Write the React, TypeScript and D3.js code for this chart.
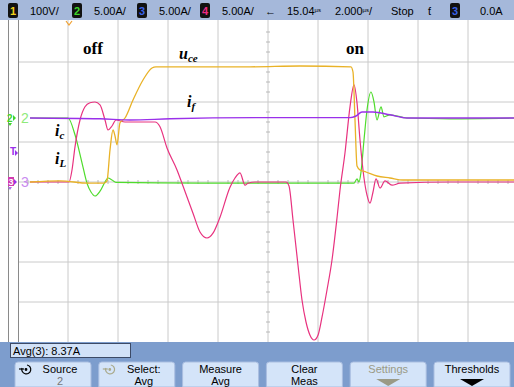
import React from 'react';
import * as d3 from 'd3';

// screen is 10 x 8 divisions, values below are in divisions
// [x (div from left), y (div from centre)]
const uceTrace: [number, number][] = [
  [0.24, 0], [0.84, 0.03], [1.4, -0.03], [1.72, -0.03], [1.78, 0.03], [1.84, 0.8],
  [1.9, 1.3], [1.94, 1.15], [1.98, 0.93], [2.04, 1.48], [2.14, 1.6], [2.3, 2.05],
  [2.5, 2.55], [2.68, 2.85], [2.76, 2.88], [4.64, 2.88], [5.64, 2.9], [6.66, 2.88],
  [6.7, 2.75], [6.74, 1.55], [6.78, 0.4], [6.84, 0.3], [6.96, 0.25], [7.18, 0.15],
  [7.44, 0.1], [7.7, 0.05], [8.64, 0.05], [9.92, 0.05]
];

const ch2Trace: [number, number][] = [
  [0.24, 1.6], [1.0, 1.6], [1.14, 1.18], [1.28, 0.48], [1.38, -0.03], [1.46, -0.25],
  [1.54, -0.35], [1.64, -0.23], [1.74, 0], [1.8, 0.1], [1.88, 0.05], [1.96, -0.01],
  [3.64, -0.03], [5.64, -0.03], [6.72, -0.03], [6.78, 0.08], [6.82, 0], [6.86, 0.25],
  [6.92, 1.05], [6.98, 1.8], [7.06, 2.25], [7.12, 2.0], [7.18, 1.55], [7.26, 1.88],
  [7.32, 1.63], [7.44, 1.68], [7.78, 1.6], [8.64, 1.58], [9.92, 1.6]
];

const ifTrace: [number, number][] = [
  [0.24, 1.6], [1.64, 1.58], [2.24, 1.55], [3.04, 1.58], [5.0, 1.61], [6.64, 1.61],
  [6.76, 1.65], [6.88, 1.75], [7.1, 1.75], [7.44, 1.68], [7.78, 1.6], [9.92, 1.6]
];

const ch4Trace: [number, number][] = [
  [0.24, 0], [1.02, 0], [1.08, 0.3], [1.14, 0.88], [1.24, 1.55], [1.34, 1.88],
  [1.44, 1.98], [1.54, 2.0], [1.64, 1.93], [1.74, 1.55], [1.8, 1.3], [1.88, 1.4],
  [1.96, 1.55], [2.14, 1.5], [2.74, 1.5], [2.84, 1.38], [2.98, 0.85], [3.18, 0.3],
  [3.3, -0.1], [3.5, -0.78], [3.64, -1.25], [3.78, -1.4], [3.9, -1.28], [4.04, -0.88],
  [4.24, -0.13], [4.34, 0.1], [4.44, 0.23], [4.54, -0.08], [4.6, -0.03], [4.74, 0],
  [5.36, 0], [5.42, -0.1], [5.5, -0.95], [5.6, -2.08], [5.68, -2.95], [5.76, -3.5],
  [5.84, -3.83], [5.92, -3.95], [6.0, -3.83], [6.08, -3.38], [6.18, -2.7], [6.28, -1.95],
  [6.38, -0.9], [6.44, -0.2], [6.54, 0.73], [6.64, 1.88], [6.72, 2.43], [6.78, 1.98],
  [6.84, 1.05], [6.92, 0.1], [6.98, -0.33], [7.04, -0.53], [7.1, -0.25], [7.16, 0.08],
  [7.24, -0.15], [7.34, 0.03], [7.48, -0.08], [7.64, -0.03], [8.64, 0], [9.92, 0]
];

const headerChannels = [
  { num: '1', color: '#f2d21c', scale: '100V/' },
  { num: '2', color: '#3fd62a', scale: '5.00A/' },
  { num: '3', color: '#3a63e8', scale: '5.00A/' },
  { num: '4', color: '#ef2a85', scale: '5.00A/' }
];

const softkeys = [
  { top: 'Source', bottom: '2', icon: true, dim: false },
  { top: 'Select:', bottom: 'Avg', icon: true, dim: true },
  { top: 'Measure', bottom: 'Avg', icon: false, dim: false },
  { top: 'Clear', bottom: 'Meas', icon: false, dim: false },
  { top: 'Settings', bottom: '', icon: false, dim: true },
  { top: 'Thresholds', bottom: '', icon: false, dim: false }
];

const W = 514;
const H = 387;
const plot = { left: 18, right: 518, top: 22, bottom: 342 };

const App = () => {
  const x = d3.scaleLinear().domain([0, 10]).range([plot.left, plot.right]);
  const y = d3.scaleLinear().domain([-4, 4]).range([plot.bottom, plot.top]);

  const line = d3.line<[number, number]>()
    .x(d => x(d[0]))
    .y(d => y(d[1]))
    .curve(d3.curveMonotoneX);

  const vLines = d3.range(1, 10);
  const hLines = d3.range(-3, 4);
  const minorY = d3.range(-4, 4.01, 0.25).filter(v => v % 1 !== 0);
  const minorX = d3.range(0, 10.01, 0.2).filter(v => Math.abs(v - Math.round(v)) > 0.01);

  const font = '"Liberation Sans", Arial, sans-serif';
  const serif = '"Liberation Serif", "Times New Roman", serif';

  const btnW = 76;
  const btnX = (i: number) => 15 + i * 83.8;

  return (
    <svg width={W} height={H} style={{ position: 'absolute', left: 0, top: 0, display: 'block', background: '#fff' }}>
      {/* grid */}
      <rect x={0} y={0} width={W} height={plot.bottom} fill="#fff" />
      {vLines.map(v => (
        <line key={'v' + v} x1={x(v)} x2={x(v)} y1={plot.top - 2} y2={plot.bottom} stroke="#cacaca" strokeWidth={1} />
      ))}
      {hLines.map(v => (
        <line key={'h' + v} x1={plot.left} x2={W} y1={y(v)} y2={y(v)} stroke="#cacaca" strokeWidth={1} />
      ))}
      {minorY.map(v => (
        <line key={'my' + v} x1={x(5) - 2} x2={x(5) + 2} y1={y(v)} y2={y(v)} stroke="#b8b8b8" strokeWidth={1} />
      ))}
      {minorX.map(v => (
        <line key={'mx' + v} x1={x(v)} x2={x(v)} y1={y(0) - 2} y2={y(0) + 2} stroke="#b8b8b8" strokeWidth={1} />
      ))}
      <line x1={8.5} x2={8.5} y1={plot.top - 2} y2={plot.bottom} stroke="#8a8a8a" />
      <line x1={18.5} x2={18.5} y1={plot.top - 2} y2={plot.bottom} stroke="#8a8a8a" />

      {/* traces */}
      <path d={line(ch2Trace) || ''} fill="none" stroke="#4fdc2c" strokeWidth={1.2} />
      <path d={line(ch4Trace) || ''} fill="none" stroke="#e8327f" strokeWidth={1.2} />
      <path d={line(uceTrace) || ''} fill="none" stroke="#e9b227" strokeWidth={1.3} />
      <path d={line(ifTrace) || ''} fill="none" stroke="#9a30ea" strokeWidth={1.4} />

      {/* annotations */}
      <g fontFamily={serif} fontWeight="bold" fill="#000">
        <text x={83} y={54} fontSize={17}>off</text>
        <text x={346} y={54} fontSize={17}>on</text>
        <text x={179} y={59} fontSize={16} fontStyle="italic">u<tspan fontSize={11} dy={3}>ce</tspan></text>
        <text x={187} y={107} fontSize={16} fontStyle="italic">i<tspan fontSize={11} dy={3}>f</tspan></text>
        <text x={55} y={136} fontSize={16} fontStyle="italic">i<tspan fontSize={11} dy={3}>c</tspan></text>
        <text x={55} y={164} fontSize={16} fontStyle="italic">i<tspan fontSize={11} dy={3}>L</tspan></text>
      </g>

      {/* left markers */}
      <g fontFamily={font}>
        <text x={7} y={y(1.6) + 4} fontSize={10} fill="#3fd62a" fontWeight="bold">2</text>
        <path d={`M13,${y(1.6) - 3} L16,${y(1.6)} L13,${y(1.6) + 3} Z`} fill="#3fd62a" />
        <path d={`M8,${y(1.6) + 5} L12,${y(1.6) + 5} L10,${y(1.6) + 8} Z`} fill="#3fd62a" />
        <text x={21} y={y(1.6) + 5} fontSize={14} fill="#8fea7a">2</text>
        <text x={10} y={y(0.75) + 3} fontSize={10} fill="#9a30ea" fontWeight="bold">T</text>
        <path d={`M15,${y(0.75) - 2} L18,${y(0.75) + 1} L15,${y(0.75) + 4} Z`} fill="#9a30ea" />
        <rect x={8} y={y(0) - 5} width={6} height={9} fill="#d23bb0" />
        <text x={8.5} y={y(0) + 3} fontSize={9} fill="#fff" fontWeight="bold">3</text>
        <path d={`M14,${y(0) - 3} L17,${y(0)} L14,${y(0) + 3} Z`} fill="#9a30ea" />
        <path d={`M8,${y(0) + 5} L12,${y(0) + 5} L10,${y(0) + 8} Z`} fill="#b06ae8" />
        <text x={21} y={y(0) + 5} fontSize={14} fill="#c98af0">3</text>
      </g>

      {/* trigger position marker */}
      <path d={`M${x(1.02) - 3},21 L${x(1.02)},25 L${x(1.02) + 3},21`} fill="none" stroke="#f0a030" strokeWidth={1.2} />

      {/* header bar */}
      <rect x={0} y={0} width={W} height={20} fill="#a5b8da" />
      <g fontFamily={font} fontSize={11} fill="#000">
        {headerChannels.map((c, i) => {
          const bx = [8, 72, 137, 200][i];
          return (
            <g key={c.num}>
              <rect x={bx} y={3} width={10} height={15} rx={2} fill="#111" />
              <text x={bx + 5} y={15} fontSize={11} fontWeight="bold" fill={c.color} textAnchor="middle">{c.num}</text>
              <text x={bx + 22} y={15}>{c.scale}</text>
            </g>
          );
        })}
        <text x={265} y={15}>←</text>
        <text x={287} y={15}>15.04<tspan fontSize={6} dy={-3}>µs</tspan></text>
        <text x={335} y={15}>2.000<tspan fontSize={6} dy={-3}>µs</tspan><tspan dy={3}>/</tspan></text>
        <text x={391} y={15}>Stop</text>
        <text x={428} y={15}>ƭ</text>
        <rect x={450} y={3} width={10} height={15} rx={2} fill="#111" />
        <text x={455} y={15} fontWeight="bold" fill="#3a63e8" textAnchor="middle">3</text>
        <text x={480} y={15}>0.0A</text>
      </g>

      {/* bottom panel */}
      <rect x={0} y={plot.bottom} width={W} height={H - plot.bottom} fill="#7d9dcd" />
      <rect x={10.5} y={343.5} width={120} height={14} fill="#d2e2f8" stroke="#3c4a66" />
      <text x={13} y={355} fontFamily={font} fontSize={11} fill="#000">Avg(3): 8.37A</text>
      {softkeys.map((k, i) => {
        const bx = btnX(i);
        const cx = bx + btnW / 2 + (k.icon ? 7 : 0);
        const c = k.dim && !k.icon ? '#9a9a86' : '#000';
        return (
          <g key={k.top} fontFamily={font} fontSize={11}>
            <path d={`M${bx},${H} L${bx},${365} Q${bx},${362} ${bx + 3},${362} L${bx + btnW - 3},${362} Q${bx + btnW},${362} ${bx + btnW},${365} L${bx + btnW},${H} Z`} fill="#d4e4f9" stroke="#a9bde0" />
            <text x={cx} y={373} textAnchor="middle" fill={c}>{k.top}</text>
            {k.bottom && (
              <text x={cx} y={385} textAnchor="middle" fill={k.top === 'Source' ? '#777' : '#000'}>{k.bottom}</text>
            )}
            {k.icon && (
              <g stroke={k.dim ? '#a9a98a' : '#000'} fill="none" strokeWidth={1.2}>
                <path d={`M${bx + 12},${365} A4.5,4.5 0 1 1 ${bx + 7},${368}`} />
                <path d={`M${bx + 4},${369} L${bx + 9},${369}`} />
                <circle cx={bx + 11} cy={369.5} r={0.8} fill={k.dim ? '#a9a98a' : '#000'} />
              </g>
            )}
            {!k.bottom && !k.icon && (
              <path d={`M${bx + btnW / 2 - 12},${379} L${bx + btnW / 2 + 12},${379} L${bx + btnW / 2},${386} Z`} fill={k.dim ? '#9a9a86' : '#000'} />
            )}
          </g>
        );
      })}
    </svg>
  );
};

export default App;
